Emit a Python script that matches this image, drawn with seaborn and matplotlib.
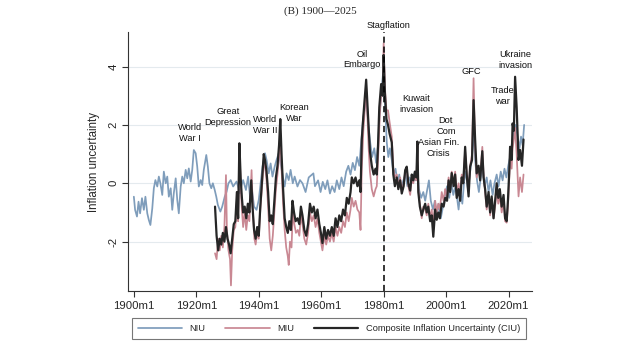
import numpy as np
import pandas as pd
import matplotlib
matplotlib.use("Agg")
import matplotlib.pyplot as plt
import seaborn as sns

# NIU (news-based inflation uncertainty)
niu_year = [1900.0, 1900.4, 1901.0, 1901.5, 1902.0, 1902.6, 1903.2, 1903.7, 1904.3, 1904.8,
            1905.3, 1905.9, 1906.4, 1906.9, 1907.5, 1908.0, 1908.5, 1909.1, 1909.6, 1910.2,
            1910.7, 1911.2, 1911.8, 1912.3, 1912.8, 1913.4, 1913.9, 1914.4, 1915.0, 1915.5,
            1916.0, 1916.6, 1917.1, 1917.6, 1918.2, 1918.7, 1919.2, 1919.8, 1920.3, 1920.8,
            1921.4, 1921.9, 1922.4, 1923.2, 1923.7, 1924.2, 1924.8, 1925.3, 1925.9, 1926.4,
            1926.9, 1927.7, 1928.3, 1929.1, 1929.7, 1930.3, 1931.0, 1931.8, 1932.9, 1934.0,
            1934.5, 1935.0, 1935.9, 1936.6, 1937.2, 1937.7, 1938.5, 1939.3, 1940.0, 1940.6,
            1941.2, 1942.0, 1942.5, 1943.2, 1943.8, 1944.4, 1945.1, 1945.7, 1946.4, 1947.0,
            1947.7, 1948.3, 1948.9, 1949.6, 1950.2, 1950.9, 1951.5, 1952.4, 1953.2, 1954.0,
            1955.0, 1956.0, 1957.5, 1958.0, 1959.0, 1959.8, 1960.5, 1961.3, 1962.0, 1962.8,
            1963.5, 1964.3, 1965.0, 1965.8, 1966.5, 1967.2, 1968.0, 1968.7, 1969.4, 1970.1,
            1970.8, 1971.5, 1972.2, 1972.8, 1973.4, 1974.0, 1974.5, 1975.1, 1975.7, 1976.3,
            1977.0, 1977.6, 1978.2, 1978.7, 1979.3, 1979.9, 1980.4, 1981.0, 1981.5, 1982.0,
            1982.6, 1983.2, 1983.8, 1984.5, 1985.0, 1985.6, 1986.3, 1987.0, 1987.6, 1988.3,
            1989.0, 1989.6, 1990.2, 1990.8, 1991.3, 1992.0, 1992.7, 1993.3, 1994.0, 1994.5,
            1995.1, 1995.8, 1996.4, 1997.0, 1997.6, 1998.3, 1999.0, 1999.7, 2000.3, 2001.0,
            2001.7, 2002.3, 2003.0, 2003.5, 2004.0, 2004.6, 2005.2, 2005.8, 2006.3, 2007.0,
            2007.6, 2008.3, 2008.8, 2009.3, 2009.9, 2010.5, 2011.1, 2011.7, 2012.3, 2013.0,
            2013.6, 2014.2, 2014.9, 2015.5, 2016.2, 2016.8, 2017.5, 2018.1, 2018.7, 2019.3,
            2019.9, 2020.5, 2021.1, 2021.7, 2022.3, 2022.9, 2023.5, 2024.0, 2024.5, 2025.0]
niu_val = [-0.46, -0.91, -1.14, -0.63, -1.03, -0.51, -0.91, -0.46, -1.03, -1.26,
           -1.43, -0.86, -0.17, 0.11, -0.11, 0.23, 0.0, -0.40, 0.40, 0.0,
           0.23, -0.46, -0.17, -0.91, -0.34, 0.17, -0.57, -1.03, -0.11, 0.23,
           0.0, 0.46, 0.17, 0.51, 0.06, 0.46, 1.14, 1.03, 0.57, -0.11,
           0.11, -0.06, 0.46, 0.97, 0.57, 0.0, -0.17, 0.0, -0.23, -0.46,
           -0.74, -0.97, -0.80, -0.46, -0.29, 0.0, 0.11, -0.11, 0.06, -0.34,
           -0.06, 0.11, -0.23, 0.23, -0.46, -0.11, -0.80, -0.91, -0.57, 0.0,
           0.57, 1.03, 0.80, 0.34, 0.68, 0.23, 0.57, 0.80, 1.03, 0.68,
           0.23, -0.11, 0.34, 0.11, 0.46, 0.0, 0.23, -0.11, 0.11, 0.0,
           -0.30, 0.20, 0.34, -0.10, 0.10, -0.30, 0.05, -0.20, 0.10, -0.35,
           -0.10, -0.30, 0.10, -0.20, 0.20, -0.10, 0.40, 0.60, 0.30, 0.70,
           0.45, 0.90, 0.60, 1.40, 2.20, 2.60, 3.00, 2.00, 1.40, 0.90,
           1.20, 0.70, 1.30, 2.40, 3.10, 3.90, 2.80, 1.40, 0.90, 1.20,
           0.80, 0.30, 0.50, 0.0, 0.30, -0.20, 0.10, 0.30, -0.10, 0.20,
           0.0, 0.30, 0.10, 0.50, -0.20, -0.50, -0.30, -0.60, -0.20, 0.10,
           -0.60, -0.90, -0.60, -1.10, -0.70, -1.20, -0.80, -0.40, -0.10, -0.50,
           0.0, -0.40, -0.10, -0.50, -0.90, -0.30, -0.70, 0.10, 0.40, -0.20,
           0.30, 0.90, 1.90, 0.80, 0.10, -0.30, 0.20, 0.60, -0.10, 0.20,
           -0.30, 0.10, -0.40, 0.0, 0.30, -0.10, 0.40, 0.10, 0.50, 0.20,
           0.60, 0.90, 1.40, 1.80, 2.00, 1.60, 1.20, 1.60, 1.30, 2.00]

# MIU (market-based inflation uncertainty)
miu_year = [1926.0, 1926.5, 1927.0, 1927.5, 1928.0, 1928.5, 1929.0, 1929.5, 1929.8, 1930.3,
            1930.8, 1931.1, 1931.5, 1932.0, 1932.5, 1933.0, 1933.4, 1933.8, 1934.2, 1934.6,
            1935.0, 1935.5, 1936.0, 1936.5, 1937.0, 1937.7, 1938.1, 1938.6, 1939.0, 1939.5,
            1940.0, 1940.5, 1941.0, 1941.6, 1942.0, 1942.5, 1943.0, 1943.5, 1944.0, 1944.5,
            1945.0, 1945.5, 1946.0, 1946.5, 1946.9, 1947.3, 1947.8, 1948.3, 1948.8, 1949.3,
            1949.6, 1950.0, 1950.5, 1950.9, 1951.4, 1951.9, 1952.5, 1953.0, 1953.5, 1954.0,
            1954.6, 1955.2, 1955.8, 1956.4, 1957.0, 1957.6, 1958.2, 1958.8, 1959.4, 1959.9,
            1960.4, 1961.0, 1961.6, 1962.2, 1962.8, 1963.4, 1964.0, 1964.6, 1965.2, 1965.8,
            1966.4, 1967.0, 1967.6, 1968.2, 1968.8, 1969.4, 1969.8, 1970.4, 1971.0, 1971.6,
            1972.2, 1972.6, 1973.0, 1973.5, 1974.0, 1974.4, 1974.8, 1975.2, 1975.6, 1976.2,
            1976.8, 1977.4, 1977.8, 1978.2, 1978.8, 1979.2, 1979.7, 1980.0, 1980.4, 1980.9,
            1981.4, 1981.9, 1982.6, 1983.1, 1983.6, 1984.2, 1984.7, 1985.3, 1985.8, 1986.4,
            1986.9, 1987.4, 1987.9, 1988.5, 1989.0, 1989.5, 1990.0, 1990.5, 1990.8, 1991.1,
            1991.6, 1992.2, 1992.7, 1993.3, 1993.8, 1994.3, 1994.9, 1995.4, 1995.9, 1996.5,
            1997.0, 1997.5, 1998.0, 1998.6, 1999.2, 1999.7, 2000.3, 2000.8, 2001.3, 2001.8,
            2002.4, 2002.9, 2003.4, 2004.0, 2004.5, 2005.0, 2005.5, 2006.1, 2006.6, 2007.2,
            2007.7, 2008.3, 2008.8, 2009.3, 2009.8, 2010.4, 2010.9, 2011.6, 2012.0, 2012.5,
            2013.0, 2013.6, 2014.1, 2014.6, 2015.2, 2015.7, 2016.2, 2016.7, 2017.2, 2017.8,
            2018.4, 2018.9, 2019.4, 2019.8, 2020.2, 2020.5, 2021.0, 2021.3, 2021.7, 2022.1,
            2022.6, 2023.2, 2023.7, 2024.3, 2024.8]
miu_val = [-2.4, -2.6, -1.9, -2.3, -1.8, -2.2, -1.5, 0.28, -1.6, -2.3,
           -2.6, -3.5, -2.3, -1.6, -1.5, -0.6, -1.3, 1.3, 0.0, -0.9,
           -1.5, -1.0, -1.6, -1.1, -1.3, 0.45, -0.9, -1.9, -2.1, -1.7,
           -1.9, -0.9, -0.2, 0.7, 0.6, 0.1, -0.8, -1.9, -2.3, -1.8,
           -1.0, -0.2, 0.3, 0.9, 1.7, 0.5, -0.7, -1.6, -2.2, -2.5,
           -2.8, -2.0, -2.2, -1.0, -1.4, -1.7, -1.6, -1.8, -1.1, -1.4,
           -1.9, -2.1, -1.7, -1.0, -1.3, -1.1, -1.5, -1.2, -1.7, -2.0,
           -2.3, -1.8, -2.1, -1.8, -2.0, -1.7, -2.0, -1.5, -1.8, -1.5,
           -1.7, -1.3, -1.5, -1.0, -1.3, -0.9, -0.5, -0.8, -0.6, -0.9,
           -1.0, -1.6, 0.5, 1.8, 2.6, 3.3, 2.3, 1.2, 0.4, -0.2,
           -0.45, -0.2, -0.1, 0.8, 2.4, 3.0, 3.2, 4.8, 3.3, 2.5,
           2.5, 2.1, 1.6, 0.5, 0.2, 0.3, -0.1, 0.2, -0.3, 0.0,
           0.4, 0.5, -0.1, -0.4, 0.2, 0.0, 0.3, 0.1, 1.3, -0.2,
           -0.7, -1.2, -0.8, -0.9, -1.1, -0.7, -1.2, -0.9, -1.5, -0.6,
           -1.0, -0.7, -0.9, -0.3, -0.6, -0.2, -0.5, 0.2, -0.2, 0.4,
           0.0, 0.4, -0.3, 0.0, -0.4, 0.3, 0.1, 1.1, 0.4, -0.2,
           0.6, 1.0, 3.6, 1.2, 0.2, 0.5, 0.2, 1.25, 0.3, -0.3,
           -0.9, -0.4, -1.1, -0.6, -1.2, -0.8, -0.2, -0.7, -0.4, -1.0,
           -0.6, -1.3, -1.35, -0.8, 0.1, 0.8, 0.5, 1.2, 1.5, 1.9,
           1.0, -0.45, 0.2, -0.3, 0.3]

# CIU (composite)
ciu_year = [1926.0, 1926.5, 1927.0, 1927.5, 1928.0, 1928.5, 1929.0, 1929.5, 1930.0, 1930.5,
            1931.0, 1931.5, 1932.0, 1932.5, 1933.0, 1933.4, 1933.8, 1934.2, 1934.6, 1935.0,
            1935.5, 1936.0, 1936.5, 1937.0, 1937.6, 1938.0, 1938.5, 1939.0, 1939.5, 1940.0,
            1940.5, 1941.0, 1941.6, 1942.0, 1942.5, 1943.0, 1943.5, 1944.0, 1944.5, 1945.0,
            1945.5, 1946.0, 1946.5, 1946.9, 1947.3, 1947.8, 1948.3, 1948.8, 1949.3, 1949.8,
            1950.3, 1950.8, 1951.3, 1951.8, 1952.4, 1953.0, 1953.5, 1954.0, 1954.6, 1955.2,
            1955.8, 1956.4, 1957.0, 1957.6, 1958.2, 1958.8, 1959.4, 1959.9, 1960.4, 1961.0,
            1961.6, 1962.2, 1962.8, 1963.4, 1964.0, 1964.6, 1965.2, 1965.8, 1966.4, 1967.0,
            1967.6, 1968.2, 1968.8, 1969.4, 1969.8, 1970.4, 1971.0, 1971.6, 1972.2, 1972.6,
            1973.0, 1973.5, 1974.0, 1974.4, 1974.8, 1975.2, 1975.6, 1976.2, 1976.8, 1977.4,
            1977.8, 1978.2, 1978.6, 1979.2, 1979.7, 1980.0, 1980.4, 1980.9, 1981.4, 1981.9,
            1982.6, 1983.1, 1983.6, 1984.2, 1984.7, 1985.3, 1985.8, 1986.4, 1986.9, 1987.4,
            1987.9, 1988.5, 1989.0, 1989.5, 1990.0, 1990.5, 1990.8, 1991.1, 1991.6, 1992.2,
            1992.7, 1993.3, 1993.8, 1994.3, 1994.9, 1995.4, 1995.9, 1996.5, 1997.0, 1997.5,
            1998.0, 1998.6, 1999.2, 1999.7, 2000.3, 2000.8, 2001.3, 2001.8, 2002.4, 2002.9,
            2003.4, 2004.0, 2004.5, 2005.0, 2005.5, 2006.1, 2006.6, 2007.2, 2007.7, 2008.3,
            2008.8, 2009.3, 2009.8, 2010.4, 2010.9, 2011.6, 2012.0, 2012.5, 2013.0, 2013.6,
            2014.1, 2014.6, 2015.2, 2015.7, 2016.2, 2016.7, 2017.2, 2017.8, 2018.4, 2018.9,
            2019.4, 2019.8, 2020.2, 2020.5, 2021.0, 2021.3, 2021.7, 2022.1, 2022.6, 2023.2,
            2023.7, 2024.3, 2024.8]
ciu_val = [-0.8, -1.8, -2.3, -1.9, -2.1, -1.7, -2.0, -1.5, -1.9, -2.1,
           -2.4, -1.9, -1.4, -1.3, -0.3, -1.2, 1.37, 0.2, -0.5, -1.0,
           -0.8, -1.2, -0.7, -1.0, 0.1, -0.8, -1.6, -1.9, -1.5, -1.8,
           -0.8, 0.0, 1.0, 0.8, 0.4, -0.3, -1.3, -1.1, -1.4, -0.6,
           0.2, 0.6, 1.3, 2.2, 1.0, -0.2, -1.2, -1.5, -1.7, -1.3,
           -1.6, -0.6, -1.0, -1.3, -1.2, -1.4, -0.8, -1.1, -1.6, -1.8,
           -1.4, -0.7, -1.0, -0.8, -1.2, -0.9, -1.4, -1.7, -2.05, -1.5,
           -1.9, -1.6, -1.8, -1.5, -1.8, -1.2, -1.5, -1.1, -1.3, -0.9,
           -1.1, -0.5, -0.7, -0.3, 0.2, 0.0, 0.2, -0.1, 0.1, -0.3,
           1.5, 2.3, 3.0, 3.55, 2.7, 1.9, 1.1, 0.6, 0.3, 0.5,
           0.3, 1.3, 2.6, 3.4, 3.0, 4.4, 3.1, 2.2, 2.0, 1.7,
           1.4, 0.3, -0.1, 0.2, -0.2, 0.1, -0.35, -0.1, 0.45, 0.57,
           0.0, -0.25, 0.3, 0.1, 0.4, 0.2, 1.43, -0.3, -0.8, -1.1,
           -0.9, -0.7, -1.0, -0.8, -1.3, -1.1, -1.83, -0.9, -1.25, -1.0,
           -1.2, -0.7, -0.8, -0.5, -0.6, 0.1, -0.3, 0.35, -0.1, 0.3,
           -0.5, -0.2, -0.6, 0.2, 0.0, 1.25, 0.3, -0.45, 0.57, 0.8,
           2.85, 1.5, 0.34, 0.6, 0.1, 1.1, 0.2, -0.2, -0.8, -0.3,
           -1.0, -0.45, -1.2, -0.6, 0.0, -0.5, -0.2, -0.8, -0.4, -1.2,
           -1.3, -0.6, 0.34, 1.25, 0.8, 2.05, 1.8, 3.65, 2.6, 0.8,
           1.14, 0.6, 1.5]

tick_years = [1900, 1920, 1940, 1960, 1980, 2000, 2020]
tick_labels = [f"{y}m1" for y in tick_years]

events = ["World\nWar I", "Great\nDepression", "World\nWar II", "Korean\nWar",
          "Oil\nEmbargo", "Stagflation", "Kuwait\ninvasion", "Dot\nCom",
          "Asian Fin.\nCrisis", "GFC", "Trade\nwar", "Ukraine\ninvasion"]
event_x = [1917.9, 1930.1, 1942.0, 1951.4, 1973.2, 1981.5, 1990.4, 1999.9,
           1997.5, 2008.2, 2018.0, 2022.3]
event_y = [1.72, 2.26, 2.0, 2.42, 4.24, 5.42, 2.72, 1.96, 1.21, 3.82, 2.99, 4.22]

c_niu = "#7f9dbb"
c_miu = "#c98893"
c_ciu = "#262626"

sns.set_style("white")
plt.rcParams["font.family"] = ["Liberation Sans", "DejaVu Sans"]

fig = plt.figure(figsize=(6.24, 3.57), dpi=100)
ax = fig.add_axes([0.205, 0.185, 0.648, 0.725])

sns.lineplot(x=niu_year, y=niu_val, ax=ax, color=c_niu, lw=1.25, estimator=None, sort=False, label="NIU")
sns.lineplot(x=miu_year, y=miu_val, ax=ax, color=c_miu, lw=1.25, estimator=None, sort=False, label="MIU")
sns.lineplot(x=ciu_year, y=ciu_val, ax=ax, color=c_ciu, lw=1.6, estimator=None, sort=False,
             label="Composite Inflation Uncertainty (CIU)")

# stagflation marker
ax.axvline(1980, color="black", ls=(0, (4, 2.5)), lw=1.1)

for t, x, y in zip(events, event_x, event_y):
    ax.text(x, y, t, ha="center", va="center", fontsize=6.7, linespacing=1.25,
            color="#111111", clip_on=False)

ax.set_xlim(1898.1, 2027.6)
ax.set_ylim(-3.69, 5.18)
ax.set_xticks(tick_years)
ax.set_xticklabels(tick_labels, fontsize=8.2)
ax.set_yticks([-2, 0, 2, 4])
ax.set_yticklabels(["-2", "0", "2", "4"], fontsize=8.2, rotation=90, va="center")
ax.yaxis.grid(True, color="#e4eaee", lw=0.8)
ax.set_axisbelow(True)
ax.set_ylabel("Inflation uncertainty", fontsize=8.3, labelpad=6)
ax.set_xlabel("")
ax.tick_params(axis="both", direction="out", length=4, width=0.8, color="#333333", pad=3,
               bottom=True, left=True)
for s in ["top", "right"]:
    ax.spines[s].set_visible(False)
for s in ["left", "bottom"]:
    ax.spines[s].set_color("#333333")
    ax.spines[s].set_linewidth(0.8)

handles, labels = ax.get_legend_handles_labels()
ax.legend_.remove()
leg = fig.legend(handles, labels, loc="center", ncol=3, bbox_to_anchor=(0.527, 0.08),
                 fontsize=6.7, handlelength=4.8, columnspacing=2.1, handletextpad=0.8,
                 frameon=True, fancybox=False, edgecolor="#555555", borderpad=0.6)
leg.get_frame().set_linewidth(0.8)

fig.text(0.513, 0.968, "(B) 1900\u20142025", ha="center", va="center", fontsize=8,
         family=["Liberation Serif", "DejaVu Serif"])

fig.savefig("out.png", dpi=100)
